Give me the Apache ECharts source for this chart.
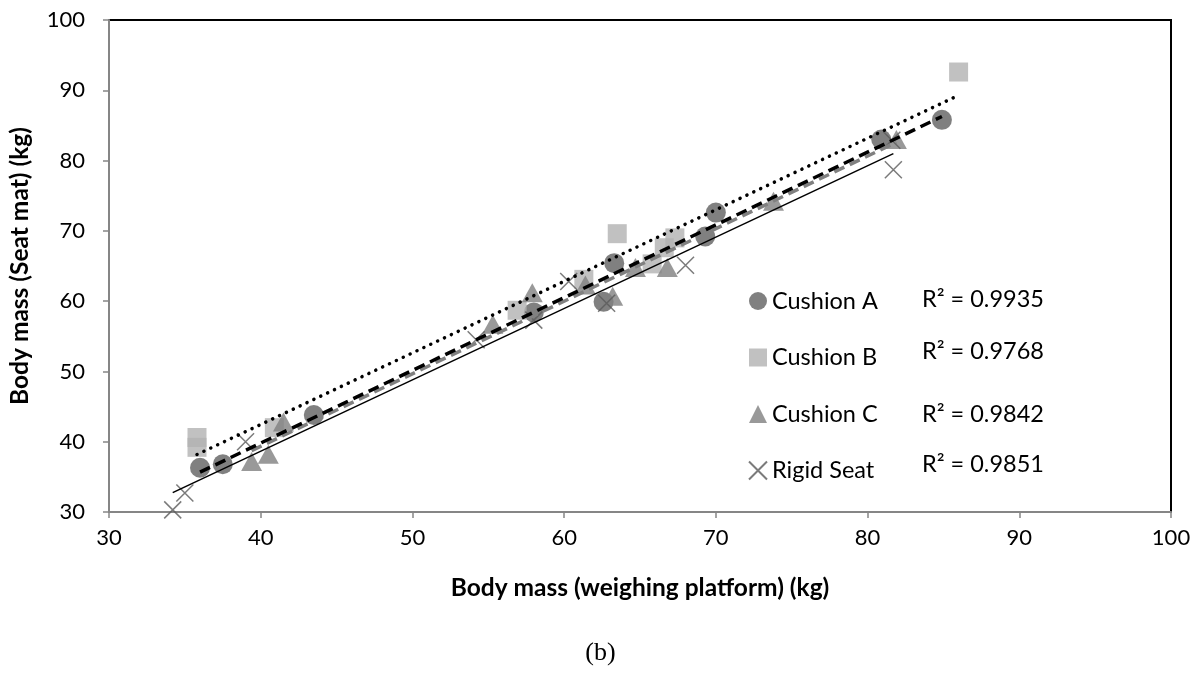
<!DOCTYPE html>
<html>
<head>
<meta charset="utf-8">
<script src="https://cdn.jsdelivr.net/npm/echarts@6/dist/echarts.min.js"></script>
<style>
  html, body { margin: 0; padding: 0; background: #fff; }
  #chart { width: 1201px; height: 683px; }
</style>
</head>
<body>
<div id="chart"></div>
<script>
// Body mass measured on the weighing platform (x) vs. estimated from the seat mat (y), kg
const seriesNames = ['Cushion A', 'Cushion B', 'Cushion C', 'Rigid Seat'];

const cushionA = [[36.0, 36.3], [37.5, 36.8], [43.5, 43.8], [58.0, 58.4], [62.6, 59.9],
                  [63.3, 65.4], [69.3, 69.2], [70.0, 72.6], [80.9, 83.0], [84.9, 85.8]];
const cushionB = [[35.8, 40.6], [35.8, 39.2], [40.9, 42.0], [56.9, 58.7], [61.3, 63.1],
                  [63.5, 69.6], [65.8, 65.3], [66.6, 67.6], [67.3, 69.0], [86.0, 92.6]];
const cushionC = [[39.4, 37.2], [40.5, 38.2], [41.5, 42.8], [55.3, 56.7], [57.9, 61.2],
                  [61.4, 62.3], [63.2, 60.7], [64.7, 64.8], [66.8, 64.8], [73.8, 74.2], [81.9, 83.0]];
const rigidSeat = [[34.2, 30.3], [35.0, 32.7], [39.0, 40.0], [54.2, 54.5], [58.0, 57.3],
                   [60.3, 62.8], [62.8, 59.7], [68.0, 65.1], [81.6, 82.9], [81.7, 78.7]];

const rSquared = ['0.9935', '0.9768', '0.9842', '0.9851'];

const axisMin = 30, axisMax = 100, axisStep = 10;

const FONT = 'Lato, "Noto Sans", sans-serif';

// least-squares linear trend line spanning the x range of the points
function trend(points) {
  const n = points.length;
  let sx = 0, sy = 0, sxx = 0, sxy = 0;
  points.forEach(([x, y]) => { sx += x; sy += y; sxx += x * x; sxy += x * y; });
  const slope = (n * sxy - sx * sy) / (n * sxx - sx * sx);
  const icept = (sy - slope * sx) / n;
  const xs = points.map(p => p[0]);
  const x0 = Math.min(...xs), x1 = Math.max(...xs);
  return [[x0, slope * x0 + icept], [x1, slope * x1 + icept]];
}

const crossPath = 'path://M0,0L10,10M10,0L0,10';

const markerSeries = [
  { name: seriesNames[0], data: cushionA, symbol: 'circle', symbolSize: 20,
    itemStyle: { color: '#606060' } },
  { name: seriesNames[1], data: cushionB, symbol: 'rect', symbolSize: 19,
    itemStyle: { color: '#b2b2b2' } },
  { name: seriesNames[2], data: cushionC, symbol: 'triangle', symbolSize: [21, 19],
    itemStyle: { color: '#808080' } },
  { name: seriesNames[3], data: rigidSeat, symbol: crossPath, symbolSize: 17,
    itemStyle: { color: 'rgba(0,0,0,0)', borderColor: '#5a5a5a', borderWidth: 1.5 } }
].map(s => Object.assign({ type: 'scatter', z: 2 }, s));

const trendSeries = [
  { data: trend(cushionC), lineStyle: { color: '#808080', width: 3.5, type: [11, 6] }, z: 3 },
  { data: trend(cushionA), lineStyle: { color: '#000', width: 3.5, type: [11, 6] }, z: 4 },
  { data: trend(cushionB), lineStyle: { color: '#000', width: 3.5, type: [0.1, 7.5], cap: 'round' }, z: 4 },
  { data: trend(rigidSeat), lineStyle: { color: '#000', width: 1.5, type: 'solid' }, z: 4 }
].map(s => Object.assign({ type: 'line', symbol: 'none', silent: true }, s));

const rsqTop = [301, 353, 416, 466];

const axisCommon = {
  type: 'value',
  min: axisMin, max: axisMax, interval: axisStep,
  splitLine: { show: false },
  axisLine: { show: true, lineStyle: { color: '#868686', width: 2 } },
  axisTick: { show: true, inside: false, length: 6, lineStyle: { color: '#868686', width: 1.5 } },
  axisLabel: { color: '#000', fontSize: 22, fontFamily: FONT },
  nameLocation: 'middle',
  nameTextStyle: { color: '#000', fontSize: 24.5, fontWeight: 'bold', fontFamily: FONT }
};

const chart = echarts.init(document.getElementById('chart'), null, { renderer: 'canvas' });
chart.setOption({
  animation: false,
  backgroundColor: '#fff',
  grid: { left: 109, right: 30, top: 20, bottom: 171, show: true,
          borderColor: '#000', borderWidth: 2, backgroundColor: 'transparent' },
  xAxis: Object.assign({}, axisCommon, {
    name: 'Body mass (weighing platform) (kg)', nameGap: 64,
    axisLabel: Object.assign({}, axisCommon.axisLabel, { margin: 15 })
  }),
  yAxis: Object.assign({}, axisCommon, {
    name: 'Body mass (Seat mat) (kg)', nameGap: 76,
    axisLabel: Object.assign({}, axisCommon.axisLabel, { margin: 24 })
  }),
  legend: {
    data: seriesNames,
    orient: 'vertical',
    left: 748, top: 289,
    itemWidth: 18, itemHeight: 18, itemGap: 32.5,
    padding: 0,
    textStyle: { color: '#000', fontSize: 23.5, fontFamily: FONT }
  },
  graphic: rSquared.map((v, i) => ({
    type: 'text', left: 922, top: rsqTop[i] - 14,
    style: { text: 'R² = ' + v, fill: '#000', font: '23.5px ' + FONT }
  })).concat([{
    type: 'text', left: 'center', top: 640,
    style: { text: '(b)', fill: '#000', font: '26px "Liberation Serif", "Times New Roman", serif' }
  }]),
  series: markerSeries.concat(trendSeries)
});
</script>
</body>
</html>
